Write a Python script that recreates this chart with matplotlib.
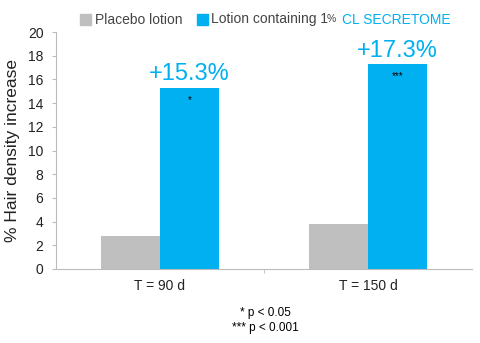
import matplotlib
matplotlib.use('Agg')
import matplotlib.pyplot as plt
import numpy as np

plt.rcParams['font.family'] = ['Liberation Sans', 'DejaVu Sans']

categories = ['T = 90 d', 'T = 150 d']
placebo = [2.8, 3.8]
secretome = [15.3, 17.3]
gain_labels = ['+15.3%', '+17.3%']
stars = ['*', '***']

grey = '#BFBFBF'
blue = '#00B0F0'

fig = plt.figure(figsize=(4.8, 3.43), dpi=100)
ax = fig.add_axes([56 / 480, 1 - 269 / 343, 416 / 480, 237 / 343])

x = np.arange(len(categories))
w = 0.284
ax.bar(x - w / 2, placebo, w, color=grey)
ax.bar(x + w / 2, secretome, w, color=blue)

for xi, v, lab, st in zip(x, secretome, gain_labels, stars):
    ax.text(xi + w / 2, v + 0.2, lab, ha='center', va='bottom',
            fontsize=17, color=blue)
    ax.text(xi + w / 2, v - 0.6, st, ha='center', va='top',
            fontsize=7, color='black')

ax.set_xlim(-0.5, 1.5)
ax.set_ylim(0, 20)
ax.set_yticks(range(0, 21, 2))
ax.tick_params(axis='y', labelsize=10, length=3, color='#BBBBBB', pad=6,
               labelcolor='#222222')
ax.set_xticks(x)
ax.set_xticklabels(categories)
ax.tick_params(axis='x', labelsize=10, length=0, pad=7, labelcolor='#222222')
ax.set_xticks([0.5], minor=True)
ax.tick_params(axis='x', which='minor', length=3, color='#BBBBBB')
ax.set_ylabel('% Hair density increase', fontsize=12.5, labelpad=6,
              color='#222222')

for s in ['top', 'right']:
    ax.spines[s].set_visible(False)
for s in ['left', 'bottom']:
    ax.spines[s].set_color('#BBBBBB')
    ax.spines[s].set_linewidth(0.8)

# legend
fig.patches.append(plt.Rectangle((80 / 480, 1 - 25 / 343), 11 / 480, 11 / 343,
                                 transform=fig.transFigure, color=grey))
fig.text(95 / 480, 1 - 19.5 / 343, 'Placebo lotion', fontsize=10,
         color='#444444', va='center')
fig.patches.append(plt.Rectangle((197 / 480, 1 - 25 / 343), 11 / 480, 11 / 343,
                                 transform=fig.transFigure, color=blue))
fig.text(211 / 480, 1 - 19.5 / 343, 'Lotion containing 1', fontsize=10,
         color='#444444', va='center')
fig.text(327 / 480, 1 - 19.5 / 343, '%', fontsize=7.5,
         color='#444444', va='center')
fig.text(342 / 480, 1 - 19.5 / 343, 'CL SECRETOME', fontsize=10,
         color=blue, va='center')

# footnote
fig.text(265 / 480, 1 - 313 / 343, '* p < 0.05', fontsize=8.5, ha='center', va='center')
fig.text(265 / 480, 1 - 328 / 343, '*** p < 0.001', fontsize=8.5, ha='center', va='center')

fig.savefig('out.png', dpi=100)
